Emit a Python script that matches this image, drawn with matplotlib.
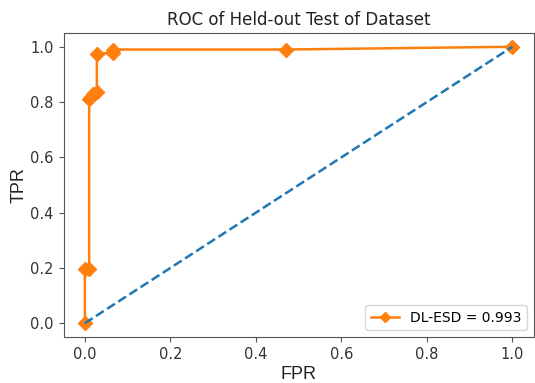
import matplotlib
matplotlib.use("Agg")
import matplotlib.pyplot as plt

fpr = [0.0, 0.0, 0.01, 0.01, 0.015, 0.02, 0.028, 0.028, 0.065, 0.065, 0.47, 1.0]
tpr = [0.0, 0.195, 0.195, 0.81, 0.82, 0.83, 0.835, 0.975, 0.978, 0.99, 0.99, 1.0]
diag = [0.0, 1.0]
label = "DL-ESD = 0.993"
title = "ROC of Held-out Test of Dataset"

fig = plt.figure(figsize=(5.35, 3.83), dpi=100)
ax = fig.add_axes([0.1187, 0.120, 0.879, 0.794])
ax.plot(fpr, tpr, color="#ff7f0e", marker="D", markersize=7, lw=1.8, label=label)
ax.plot(diag, diag, color="#1f77b4", ls="--", lw=1.8)
ax.set_title(title, fontsize=12, color="#222222")
ax.set_xlabel("FPR", fontsize=13, family="Liberation Sans", color="#222222", labelpad=3)
ax.set_ylabel("TPR", fontsize=13, family="Liberation Sans", color="#222222", labelpad=2)
ax.tick_params(labelsize=10.5, labelcolor="#333333", color="#555555")
for s in ax.spines.values():
    s.set_color("#555555")
ax.legend(loc="lower right", fontsize=10, markerscale=0.8)
fig.savefig("out.png", dpi=100)
